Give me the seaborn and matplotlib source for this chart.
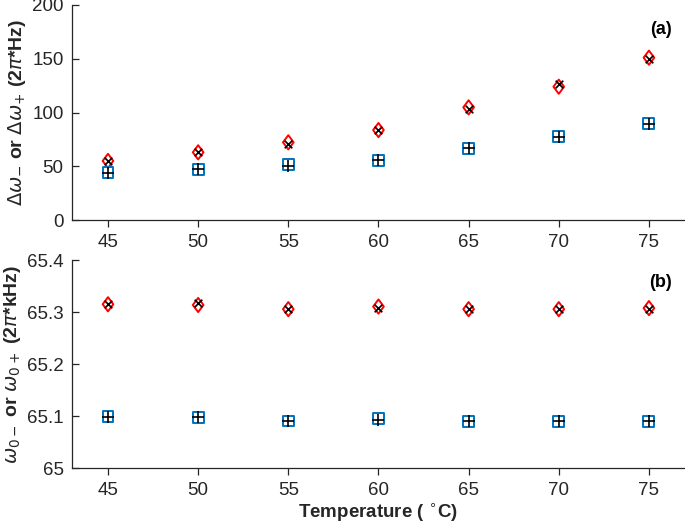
import matplotlib
matplotlib.use("Agg")
import matplotlib.pyplot as plt
import seaborn as sns
import numpy as np
from matplotlib.path import Path

# ---- data ----
temps = [45, 50, 55, 60, 65, 70, 75]
# panel (a): linewidths (2*pi*Hz)
dw_minus_fit = [55.0, 63.0, 72.3, 83.7, 104.8, 124.0, 151.0]   # red diamonds
dw_minus_exp = [55.0, 63.0, 70.4, 83.7, 103.0, 126.5, 150.0]   # black x
dw_plus_fit = [44.3, 47.4, 51.8, 55.8, 66.7, 77.5, 90.0]       # blue squares
dw_plus_exp = [44.0, 47.4, 50.5, 55.8, 66.7, 77.5, 89.0]       # black +
# panel (b): center frequencies (2*pi*kHz)
w0_minus_fit = [65.3154, 65.314, 65.306, 65.311, 65.306, 65.306, 65.308]
w0_minus_exp = [65.3154, 65.318, 65.306, 65.308, 65.306, 65.306, 65.306]
w0_plus_fit = [65.0992, 65.098, 65.091, 65.095, 65.090, 65.090, 65.090]
w0_plus_exp = [65.0992, 65.098, 65.090, 65.093, 65.090, 65.090, 65.090]

xticks = [45, 50, 55, 60, 65, 70, 75]
yticks_a = [0, 50, 100, 150, 200]
yticks_b = [65, 65.1, 65.2, 65.3, 65.4]
ytick_labels_b = ["65", "65.1", "65.2", "65.3", "65.4"]

sns.set_style("white")
plt.rcParams['font.family'] = ['Liberation Sans', 'DejaVu Sans']
plt.rcParams['mathtext.fontset'] = 'dejavusans'

RED = "#FF0000"
BLUE = "#0072BD"
TXT = "#262626"

diamond = Path([(0, 1), (0.75, 0), (0, -1), (-0.75, 0), (0, 1)],
               [Path.MOVETO, Path.LINETO, Path.LINETO, Path.LINETO, Path.CLOSEPOLY])

fig = plt.figure(figsize=(6.85, 5.24), dpi=100)
ax1 = fig.add_axes([0.105, 0.580, 0.895, 0.4105])
ax2 = fig.add_axes([0.105, 0.1063, 0.895, 0.397])

def draw(ax, red, xs, blue, plus):
    sns.scatterplot(x=temps, y=red, marker=diamond, s=105, facecolor='none',
                    edgecolor=RED, linewidth=1.4, ax=ax, zorder=3)
    sns.scatterplot(x=temps, y=xs, marker='x', s=30, color='black',
                    linewidth=1.2, ax=ax, zorder=4)
    sns.scatterplot(x=temps, y=blue, marker='s', s=62, facecolor='none',
                    edgecolor=BLUE, linewidth=1.4, ax=ax, zorder=3)
    sns.scatterplot(x=temps, y=plus, marker='+', s=75, color='black',
                    linewidth=1.2, ax=ax, zorder=4)

draw(ax1, dw_minus_fit, dw_minus_exp, dw_plus_fit, dw_plus_exp)
draw(ax2, w0_minus_fit, w0_minus_exp, w0_plus_fit, w0_plus_exp)

for ax in (ax1, ax2):
    ax.set_xlim(43, 77)
    ax.set_xticks(xticks)
    ax.set_xticklabels([str(t) for t in xticks])
    sns.despine(ax=ax)
    for s in ('left', 'bottom'):
        ax.spines[s].set_color(TXT)
        ax.spines[s].set_linewidth(0.9)
    ax.tick_params(axis='y', direction='in', length=5, width=0.9, colors=TXT,
                   labelsize=13.5, left=True, pad=6)
    ax.tick_params(axis='x', direction='out', length=5, width=0.9, colors=TXT,
                   labelsize=13.5, bottom=True, pad=5)
    ax.set_facecolor('white')

ax1.set_ylim(0, 200)
ax1.set_yticks(yticks_a)
ax1.set_yticklabels([str(v) for v in yticks_a])
ax2.set_ylim(65, 65.4)
ax2.set_yticks(yticks_b)
ax2.set_yticklabels(ytick_labels_b)

ax1.set_ylabel(r'$\Delta\omega_{-}$ or $\Delta\omega_{+}$ (2$\pi$*Hz)',
               fontsize=14, fontweight='bold', color=TXT, labelpad=3)
ax2.set_ylabel(r'$\omega_{0-}$ or $\omega_{0+}$ (2$\pi$*kHz)',
               fontsize=14, fontweight='bold', color=TXT, labelpad=3)
ax2.set_xlabel(r'Temperature ( $^{\circ}$C)', fontsize=13.5, fontweight='bold',
               color=TXT, labelpad=1)

ax1.text(0.978, 0.885, '(a)', transform=ax1.transAxes, fontsize=13,
         fontweight='bold', ha='right', va='center', color='black')
ax2.text(0.978, 0.895, '(b)', transform=ax2.transAxes, fontsize=13,
         fontweight='bold', ha='right', va='center', color='black')

fig.savefig('out.png', dpi=100, facecolor='white')
